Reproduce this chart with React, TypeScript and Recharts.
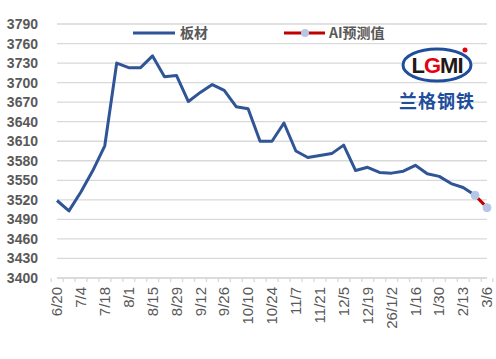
import React from 'react';
import { LineChart, Line, XAxis, YAxis, CartesianGrid } from 'recharts';

// 周度日期（2/20 缺，春节）
const dates = [
  '6/20', '6/27', '7/4', '7/11', '7/18', '7/25', '8/1', '8/8', '8/15', '8/22',
  '8/29', '9/5', '9/12', '9/19', '9/26', '10/3', '10/10', '10/17', '10/24', '10/31',
  '11/7', '11/14', '11/21', '11/28', '12/5', '12/12', '12/19', '12/26', '26/1/2', '1/9',
  '1/16', '1/23', '1/30', '2/6', '2/13', '2/27', '3/6',
];

// 板材价格
const boardPrices: (number | null)[] = [
  3519, 3503, 3532, 3565, 3603, 3730, 3723, 3723, 3741, 3709,
  3711, 3671, 3685, 3697, 3688, 3663, 3660, 3610, 3610, 3638,
  3595, 3585, 3588, 3591, 3604, 3565, 3570, 3562, 3561, 3564,
  3573, 3560, 3556, 3545, 3539, 3527, null,
];

// AI 预测值
const aiPrices: (number | null)[] = [
  null, null, null, null, null, null, null, null, null, null,
  null, null, null, null, null, null, null, null, null, null,
  null, null, null, null, null, null, null, null, null, null,
  null, null, null, null, null, 3527, 3508,
];

const yTicks = [3400, 3430, 3460, 3490, 3520, 3550, 3580, 3610, 3640, 3670, 3700, 3730, 3760, 3790];

const chartData = dates.map((d, i) => ({
  date: d,
  板材: boardPrices[i],
  AI预测值: aiPrices[i],
}));

const W = 496;
const H = 359;
const M = { top: 24, right: 9, bottom: 0, left: 0 };
const X_H = 81;
const Y_W = 57;
const STEP = (W - M.right - Y_W) / dates.length;

const numFont = '"Liberation Sans", Arial, sans-serif';
const cjkFont = '"Noto Sans CJK SC", "Liberation Sans", sans-serif';

const XTick = (props: any) => {
  const { x, y, payload, index } = props;
  const i = typeof index === 'number' ? index : dates.indexOf(payload.value);
  return (
    <g>
      <line x1={x - STEP / 2} x2={x - STEP / 2} y1={y} y2={y + 4} stroke="#d9d9d9" strokeWidth={1.3} />
      {i === dates.length - 1 && (
        <line x1={x + STEP / 2} x2={x + STEP / 2} y1={y} y2={y + 4} stroke="#d9d9d9" strokeWidth={1.3} />
      )}
      {i % 2 === 0 && (
        <text
          transform={`translate(${x},${y + 9}) rotate(-90)`}
          textAnchor="end"
          dy="0.35em"
          fill="#595959"
          fontSize={15}
          fontFamily={numFont}
        >
          {payload.value}
        </text>
      )}
    </g>
  );
};

// 图例（手绘，避免挤占绘图区）
const LegendBox = () => (
  <svg width={W} height={20} style={{ position: 'absolute', left: 0, top: 23 }}>
    <line x1={133} x2={175} y1={10} y2={10} stroke="#2f5597" strokeWidth={3} />
    <text x={180} y={15} fontSize={14} fontWeight="bold" fill="#595959" fontFamily={cjkFont}>板材</text>
    <line x1={284} x2={325} y1={10} y2={10} stroke="#c00000" strokeWidth={3} />
    <circle cx={305} cy={10} r={4} fill="#b4c7e7" />
    <text x={329} y={15} fontSize={14} fontWeight="bold" fill="#595959" fontFamily={cjkFont}>AI预测值</text>
  </svg>
);

const Logo = () => (
  <svg width={90} height={80} style={{ position: 'absolute', left: 395, top: 42 }}>
    <ellipse cx={42} cy={23} rx={34} ry={16} fill="#ffffff" stroke="#1f4e9c" strokeWidth={3} />
    <text x={42} y={31} textAnchor="middle" fontSize={22} fontWeight="bold" fontFamily={numFont} letterSpacing={-1}>
      <tspan fill="#231815">L</tspan>
      <tspan fill="#e60012">G</tspan>
      <tspan fill="#231815">MI</tspan>
    </text>
    <circle cx={70} cy={8} r={2.5} fill="#e60012" />
    <text x={42} y={66} textAnchor="middle" fontSize={18} fontWeight="bold" fill="#1f4e9c" fontFamily={cjkFont} letterSpacing={1}>
      兰格钢铁
    </text>
  </svg>
);

export default function App() {
  return (
    <div style={{ position: 'absolute', left: 0, top: 0, width: W, height: H, background: '#fff' }}>
      <LineChart width={W} height={H} data={chartData} margin={M}>
        <CartesianGrid vertical={false} stroke="#d9d9d9" strokeWidth={1.3} />
        <XAxis
          dataKey="date"
          height={X_H}
          interval={0}
          tickLine={false}
          tickSize={0}
          tickMargin={0}
          axisLine={{ stroke: '#d9d9d9', strokeWidth: 1.3 }}
          tick={<XTick />}
        />
        <YAxis
          width={Y_W}
          domain={[3400, 3790]}
          ticks={yTicks}
          interval={0}
          axisLine={false}
          tickLine={false}
          tickMargin={13}
          tick={{ fill: '#595959', fontSize: 14, fontWeight: 'bold', fontFamily: numFont }}
        />
        <Line
          type="linear"
          dataKey="板材"
          stroke="#2f5597"
          strokeWidth={3}
          strokeLinejoin="round"
          dot={false}
          isAnimationActive={false}
        />
        <Line
          type="linear"
          dataKey="AI预测值"
          stroke="#c00000"
          strokeWidth={3}
          dot={{ r: 4, fill: '#b4c7e7', stroke: '#b4c7e7', strokeWidth: 1 }}
          isAnimationActive={false}
        />
      </LineChart>
      <LegendBox />
      <Logo />
    </div>
  );
}
